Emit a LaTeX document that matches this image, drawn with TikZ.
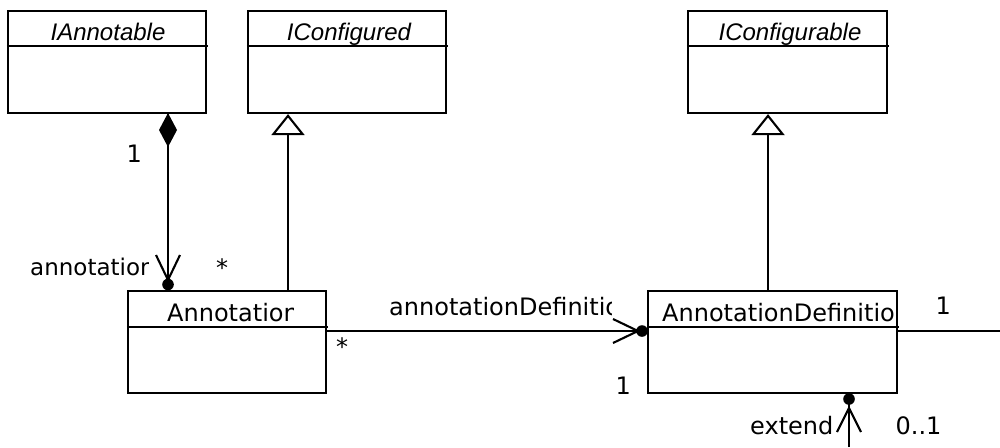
\documentclass[tikz,border=0pt]{standalone}
\usepackage{fontspec}
\usetikzlibrary{arrows.meta}
\newfontfamily\libit{Liberation Sans}[ItalicFont=* Italic]
\newfontfamily\dvs{DejaVu Sans}
\tikzset{
  umlbox/.style={draw, line width=2.2pt, fill=white, inner sep=0pt, minimum width=198pt, minimum height=102pt},
  conn/.style={line width=2.1pt},
  itlabel/.style={inner sep=0pt, anchor=base, font=\libit\itshape\fontsize{24}{28}\selectfont},
  lbl/.style={inner sep=0pt, anchor=base west, font=\dvs\fontsize{24}{28}\selectfont},
  gen/.style={conn, -{Triangle[open, length=21pt, width=33pt, line width=2.1pt]}}
}
\begin{document}
\begin{tikzpicture}[x=1pt, y=-1pt]
\useasboundingbox[fill=white] (0,0) rectangle (1000,447);

% boxes
\node[umlbox] (ia) at (107,62) {};
\node[umlbox] (icd) at (347,62) {};
\node[umlbox, minimum width=199pt] (icb) at (787.5,62) {};
\node[umlbox] (ann) at (227,342) {};
\node[umlbox, minimum width=249pt] (ad) at (772.5,342) {};

% dividers
\draw[line width=2.2pt] (ia.west |- 0,46) -- (208,46);
\draw[line width=2.2pt] (icd.west |- 0,46) -- (448,46);
\draw[line width=2.2pt] (icb.west |- 0,46) -- (889,46);
\draw[line width=2.2pt] (ann.west |- 0,327) -- (328,327);
\draw[line width=2.2pt] (ad.west |- 0,327) -- (899,327);

% class names
\node[itlabel] (tia) at (108,40) {IAnnotable};
\node[itlabel] (ticd) at (349,40) {IConfigured};
\node[itlabel] (ticb) at (790,40) {IConfigurable};
\begin{scope}
  \clip (150,295) rectangle (293,326);
  \node[lbl] (tann) at (167,321) {Annotation};
\end{scope}
\begin{scope}
  \clip (655,295) rectangle (893,326);
  \node[lbl] (tad) at (662,321) {AnnotationDefinitio};
\end{scope}

% composition IAnnotable <>-- Annotation
\draw[conn] ([xshift=61pt]ia.south) -- ([xshift=-59pt]ann.north);
\fill (168,113) -- (177,130) -- (168,147) -- (159,130) -- cycle;
\draw[conn] (156,255) -- (168,280) -- (180,255);
\fill (168,284.5) circle (5.8pt);

% generalizations
\draw[gen] ([xshift=61pt]ann.north) -- ([xshift=-59pt]icd.south);
\draw[gen] ([xshift=-4.5pt]ad.north) -- ([xshift=-19.5pt]icb.south);

% association Annotation -> AnnotationDefinition
\draw[conn] ([yshift=11pt]ann.east) -- ([yshift=11pt]ad.west);
\draw[conn] (613,319) -- (638,331) -- (613,343);
\fill (642,331) circle (5.8pt);

% self association of AnnotationDefinition (extend)
\coordinate (rend) at (1000,331);
\coordinate (bend) at (849,447);
\draw[conn] ([yshift=11pt]ad.east) -- (rend);
\draw[conn] (bend) -- ([xshift=76.5pt]ad.south);
\draw[conn] (837,432) -- (849,408) -- (861,432);
\fill (849,399) circle (5.8pt);

% labels
\node[lbl] (l1) at (126.5,162) {1};
\begin{scope}
  \clip (20,250) rectangle (148.5,285);
  \node[lbl, font=\dvs\fontsize{23}{27}\selectfont] (lann) at (30,275) {annotation};
\end{scope}
\node[lbl, anchor=base] (ls1) at (222,276) {*};
\node[lbl, anchor=base] (ls2) at (342,355.5) {*};
\begin{scope}
  \clip (380,290) rectangle (611,322);
  \node[lbl] (lad) at (389,315) {annotationDefinitio};
\end{scope}
\node[lbl] (l2) at (935.5,314) {1};
\node[lbl] (l3) at (615.5,394) {1};
\node[lbl] (lext) at (750,434) {extend};
\node[lbl] (l01) at (895.5,434) {0..1};
\end{tikzpicture}
\end{document}
